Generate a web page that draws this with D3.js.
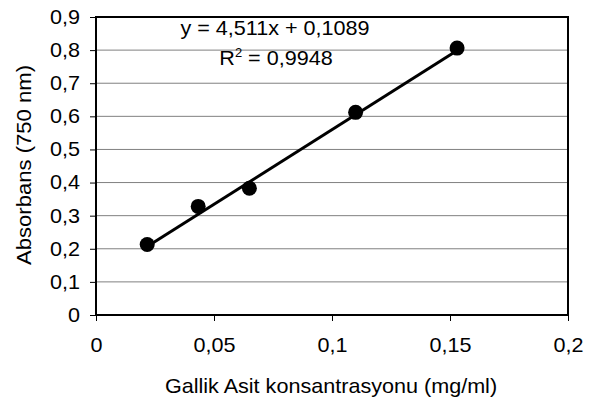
<!DOCTYPE html>
<html>
<head>
<meta charset="utf-8">
<script src="https://cdn.jsdelivr.net/npm/d3@7"></script>
<style>
  body { margin: 0; background: #fff; }
  text { font-family: "Liberation Sans", Arial, sans-serif; fill: #000; }
</style>
</head>
<body>
<div id="chart"></div>
<script>
// readings
let concs = [0.0217, 0.0433, 0.065, 0.11, 0.153];
let absorb = [0.213, 0.328, 0.383, 0.612, 0.806];
let xTicks = [0, 0.05, 0.1, 0.15, 0.2];
let yTicks = [0, 0.1, 0.2, 0.3, 0.4, 0.5, 0.6, 0.7, 0.8, 0.9];
let slope = 4.511, intercept = 0.1089;
let eqText = "y = 4,511x + 0,1089";
let r2Text = " = 0,9948";

function go(){
    let width = 597, height = 403;
    let m = {left: 96, right: 29, top: 17, bottom: 88};
    let fs = 20, k = 1.08;

    let svg = d3.select("#chart").append("svg")
        .attr("width", width)
        .attr("height", height);

    let x = d3.scaleLinear().domain([0, 0.2]).range([m.left, width - m.right]);
    let y = d3.scaleLinear().domain([0, 0.9]).range([height - m.bottom, m.top]);

    let comma = d => String(d).replace(".", ",");

    // the source picture is a little wider than it is tall, so text is stretched sideways
    function stretch(sel){
        sel.each(function(){
            let t = d3.select(this);
            let tx = +t.attr("x") || 0;
            t.attr("transform", "translate(" + tx + ",0) scale(" + k + ",1) translate(" + (-tx) + ",0)");
        });
    }

    // grid lines
    svg.append("g").selectAll("line")
        .data(yTicks.slice(1, -1))
        .enter().append("line")
        .attr("x1", x(0)).attr("x2", x(0.2))
        .attr("y1", d => y(d)).attr("y2", d => y(d))
        .attr("stroke", "#808080")
        .attr("stroke-width", 1);

    let yAxis = svg.append("g")
        .attr("transform", "translate(" + m.left + ",0)")
        .call(d3.axisLeft(y).tickValues(yTicks).tickFormat(comma).tickSize(6).tickPadding(10));
    let xAxis = svg.append("g")
        .attr("transform", "translate(0," + (height - m.bottom) + ")")
        .call(d3.axisBottom(x).tickValues(xTicks).tickFormat(comma).tickSize(6).tickPadding(17));

    [xAxis, yAxis].forEach(a => {
        a.attr("font-size", fs).attr("font-family", "Liberation Sans, Arial, sans-serif");
        a.select(".domain").remove();
        a.selectAll("line").attr("stroke", "#000");
        a.selectAll("text").call(stretch);
    });

    // plot frame
    svg.append("rect")
        .attr("x", x(0)).attr("y", y(0.9))
        .attr("width", x(0.2) - x(0))
        .attr("height", y(0) - y(0.9))
        .attr("fill", "none")
        .attr("stroke", "#000")
        .attr("stroke-width", 2);

    // linear trendline
    let x0 = d3.min(concs), x1 = d3.max(concs);
    svg.append("line")
        .attr("x1", x(x0)).attr("y1", y(slope * x0 + intercept))
        .attr("x2", x(x1)).attr("y2", y(slope * x1 + intercept))
        .attr("stroke", "#000")
        .attr("stroke-width", 3);

    svg.selectAll(".pt")
        .data(concs)
        .enter().append("circle")
        .attr("class", "pt")
        .attr("cx", d => x(d))
        .attr("cy", (d, i) => y(absorb[i]))
        .attr("r", 7.5)
        .attr("fill", "#000");

    svg.append("text")
        .attr("x", 275).attr("y", 35)
        .attr("text-anchor", "middle")
        .attr("font-size", fs)
        .text(eqText)
        .call(stretch);

    let r2 = svg.append("text")
        .attr("x", 276).attr("y", 65)
        .attr("text-anchor", "middle")
        .attr("font-size", fs);
    r2.append("tspan").text("R");
    r2.append("tspan").attr("font-size", 12).attr("dy", -8).text("2");
    r2.append("tspan").attr("dy", 8).text(r2Text);
    r2.call(stretch);

    svg.append("text")
        .attr("x", 331).attr("y", 393)
        .attr("text-anchor", "middle")
        .attr("font-size", fs)
        .text("Gallik Asit konsantrasyonu (mg/ml)")
        .call(stretch);

    svg.append("text")
        .attr("transform", "translate(31,165) rotate(-90)")
        .attr("text-anchor", "middle")
        .attr("font-size", fs)
        .attr("textLength", 200)
        .attr("lengthAdjust", "spacingAndGlyphs")
        .text("Absorbans (750 nm)");
}
go();
</script>
</body>
</html>
